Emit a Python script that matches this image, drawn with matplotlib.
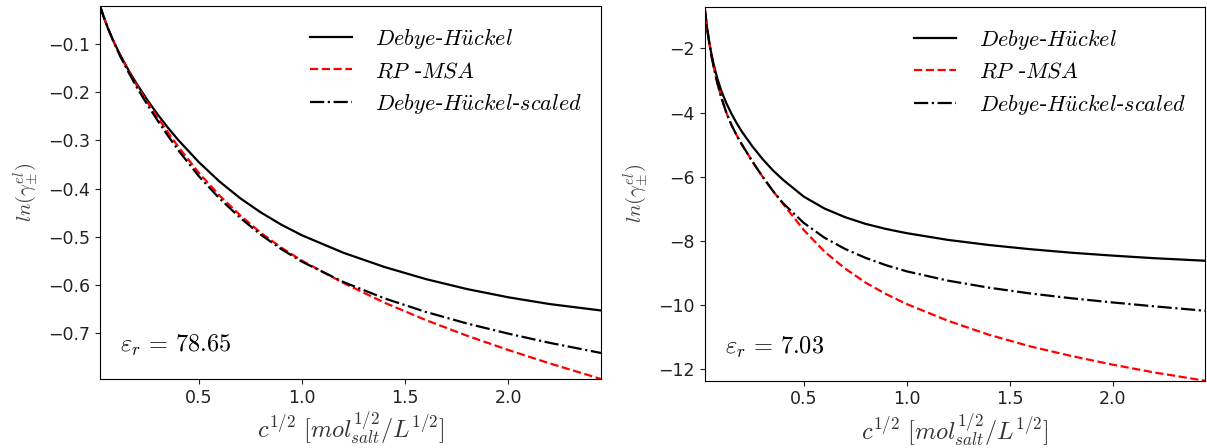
import matplotlib
matplotlib.use("Agg")
import matplotlib.pyplot as plt

plt.rcParams['mathtext.fontset'] = 'cm'
plt.rcParams['font.family'] = ['DejaVu Sans']

# ---------------- left panel (eps_r = 78.65) ----------------
x_left = [0.021, 0.04, 0.06, 0.085, 0.12, 0.16, 0.2, 0.25, 0.3, 0.35, 0.4, 0.5, 0.6,
          0.7, 0.8, 0.9, 1.0, 1.2, 1.4, 1.6, 1.8, 2.0, 2.2, 2.449]
dh_left = [-0.022, -0.0458, -0.0688, -0.0938, -0.1243, -0.1555, -0.1839, -0.2164,
           -0.2464, -0.2739, -0.2994, -0.3454, -0.3854, -0.4199, -0.4494, -0.4749,
           -0.4969, -0.5329, -0.5625, -0.5875, -0.6082, -0.6252, -0.6392, -0.6525]
rp_left = [-0.022, -0.0458, -0.0688, -0.0938, -0.1253, -0.1573, -0.1869, -0.2209,
           -0.2524, -0.2834, -0.3134, -0.3674, -0.4144, -0.4554, -0.4914, -0.5224,
           -0.5494, -0.5954, -0.6364, -0.6724, -0.7048, -0.7344, -0.7620, -0.7944]
dhs_left = [-0.022, -0.0458, -0.0688, -0.0938, -0.1270, -0.1600, -0.1910, -0.2260,
            -0.2590, -0.2905, -0.3205, -0.3745, -0.4205, -0.4605, -0.4955, -0.5255,
            -0.5515, -0.5935, -0.6275, -0.6555, -0.6795, -0.7005, -0.7195, -0.7405]

# ---------------- right panel (eps_r = 7.03) ----------------
x_right = [0.018, 0.03, 0.04, 0.05, 0.06, 0.08, 0.10, 0.125, 0.15, 0.175, 0.2, 0.25,
           0.3, 0.35, 0.4, 0.5, 0.6, 0.7, 0.8, 0.9, 1.0, 1.2, 1.4, 1.6, 1.8, 2.0, 2.2, 2.449]
dh_right = [-0.70, -1.32, -1.76, -2.12, -2.43, -2.93, -3.33, -3.72, -4.05, -4.34, -4.60,
            -5.05, -5.45, -5.80, -6.10, -6.62, -6.99, -7.26, -7.47, -7.63, -7.76, -7.97,
            -8.13, -8.26, -8.37, -8.46, -8.54, -8.62]
rp_right = [-0.70, -1.34, -1.79, -2.17, -2.50, -3.07, -3.54, -4.02, -4.40, -4.72, -5.00,
            -5.52, -6.00, -6.44, -6.85, -7.66, -8.33, -8.86, -9.30, -9.66, -9.97, -10.49,
            -10.93, -11.29, -11.59, -11.86, -12.10, -12.36]
dhs_right = [-0.70, -1.34, -1.79, -2.17, -2.50, -3.07, -3.54, -4.02, -4.40, -4.72, -5.00,
             -5.52, -6.00, -6.44, -6.83, -7.44, -7.90, -8.25, -8.53, -8.76, -8.95, -9.24,
             -9.46, -9.64, -9.79, -9.92, -10.04, -10.18]

labels = [r'$Debye$-$H\ddot{u}ckel$', r'$RP$ -$MSA$', r'$Debye$-$H\ddot{u}ckel$-$scaled$']
eps_labels = [r'$\varepsilon_r\,=\,78.65$', r'$\varepsilon_r\,=\,7.03$']

fig = plt.figure(figsize=(12.07, 4.48), dpi=100)
ax1 = fig.add_axes([100/1207, 1-379/448, 501/1207, 373/448])
ax2 = fig.add_axes([704.5/1207, 1-380.7/448, 500.5/1207, 374/448])

panels = [(ax1, x_left, dh_left, rp_left, dhs_left, eps_labels[0]),
          (ax2, x_right, dh_right, rp_right, dhs_right, eps_labels[1])]

for ax, x, dh, rp, dhs, eps in panels:
    ax.plot(x, dh, color='black', lw=1.6, ls='-', label=labels[0])
    ax.plot(x, rp, color='red', lw=1.6, ls='--', label=labels[1])
    ax.plot(x, dhs, color='black', lw=1.6, ls='-.', label=labels[2])
    ax.set_xlim(x[0], x[-1])
    ax.set_ylim(min(min(dh), min(rp), min(dhs)), max(max(dh), max(rp), max(dhs)))
    ax.set_xticks([0.5, 1.0, 1.5, 2.0])
    ax.tick_params(labelsize=12.5, colors='#222222')
    ax.set_xlabel(r'$c^{1/2}\ [mol_{salt}^{1/2}/L^{1/2}]$', fontsize=17.5, color='#333333', labelpad=2)
    ax.set_ylabel(r'$ln(\gamma_{\pm}^{el})$', fontsize=15, color='#444444', labelpad=6)
    ax.legend(loc='upper right', frameon=False, fontsize=16, handlelength=1.9,
              handletextpad=1.05, labelspacing=0.45, bbox_to_anchor=(1.003, 1.0))
    ax.text(0.04, 0.09, eps, transform=ax.transAxes, fontsize=17.5, ha='left', va='center')

ax1.set_yticks([-0.1, -0.2, -0.3, -0.4, -0.5, -0.6, -0.7])
ax2.set_yticks([-2, -4, -6, -8, -10, -12])

fig.savefig('out.png', dpi=100)
